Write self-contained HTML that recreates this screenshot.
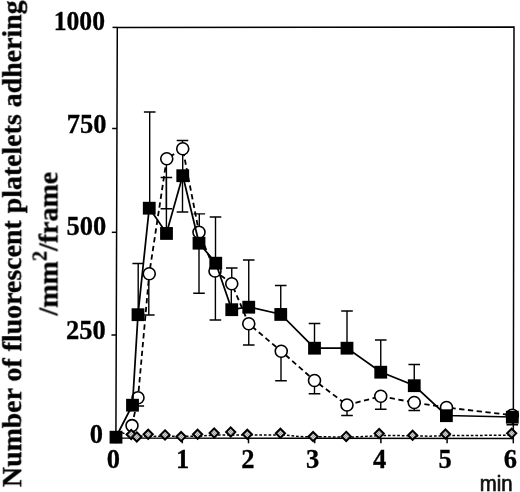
<!DOCTYPE html>
<html lang="en"><head><meta charset="utf-8"><title>Fluorescent platelets adhering</title>
<style>
html,body{margin:0;padding:0;background:#fff;}
body{width:520px;height:492px;overflow:hidden;}
svg{display:block;}
.t{font-family:"Liberation Serif","Times New Roman",serif;font-weight:bold;fill:#000;stroke:#000;stroke-width:0.3px;}
.s{font-family:"Liberation Sans",Arial,sans-serif;fill:#111;}
</style></head><body>
<svg width="520" height="492" viewBox="0 0 520 492">
<defs><filter id="b" filterUnits="userSpaceOnUse" x="0" y="0" width="520" height="492"><feGaussianBlur stdDeviation="0.35"/></filter><pattern id="h" width="2" height="2" patternUnits="userSpaceOnUse"><rect width="2" height="2" fill="#d4d4d4"/><rect width="1" height="1" fill="#9a9a9a"/><rect x="1" y="1" width="1" height="1" fill="#9a9a9a"/></pattern></defs>
<rect width="520" height="492" fill="#fff"/>
<g filter="url(#b)">
<g fill="none" stroke="#000" stroke-width="1.5">
<path d="M117.3 27.4L514 27.1L513.3 438.6L115.9 437.9Z"/>
<path d="M112.50 27.4H117.30"/>
<path d="M112.16 128.5H116.96"/>
<path d="M111.80 232.3H116.60"/>
<path d="M111.45 335H116.25"/>
<path d="M111.10 437.9H115.90"/>
<path d="M116.1 437.9V443.3"/>
<path d="M182.3 438.0V443.3"/>
<path d="M248.5 438.1V443.3"/>
<path d="M314.7 438.2V443.3"/>
<path d="M380.9 438.4V443.3"/>
<path d="M447.1 438.5V443.3"/>
<path d="M513.3 438.6V443.3"/>
</g>
<path d="M122 432.6L130 435.8L150 436.4L200 436.2L214 435L250 435L285 435L300 436.6L345 437L360 436.8L384 435.4L415 435.8L430 436.2L446 435.6L512 435.2" stroke="#000" stroke-width="1.5" stroke-dasharray="2.7 1.9" fill="none"/>
<g stroke="#000" fill="none">
<polyline points="132,425.6 138,397.8 149.25,273.75 166.75,158.75 182.75,148.75 199,232.25 215,271 231.75,283.75 248.75,323.75 281.25,351.25 314.5,380.5 347,405 380.75,396.25 414.25,402.5 446.5,407.5 512.3,415.2" stroke-width="1.8" stroke-dasharray="5.3 3.5"/>
<path d="M138.3 397.8V406M132.5 406H144.10000000000002" stroke-width="1.4"/>
<path d="M148.8 273.75V315M143.0 315H154.60000000000002" stroke-width="1.4"/>
<path d="M166.4 158.75V208.75M160.6 208.75H172.20000000000002" stroke-width="1.4"/>
<path d="M182.5 148.75V140.5M176.7 140.5H188.3" stroke-width="1.4"/>
<path d="M199.3 232V213.9M193.5 213.9H205.10000000000002" stroke-width="1.4"/>
<path d="M215.4 271V320M209.6 320H221.20000000000002" stroke-width="1.4"/>
<path d="M231.75 283.75V268M225.95 268H237.55" stroke-width="1.4"/>
<path d="M248.75 323.75V345M242.95 345H254.55" stroke-width="1.4"/>
<path d="M281 351.25V380.75M275.2 380.75H286.8" stroke-width="1.4"/>
<path d="M314.5 380.5V393.75M308.7 393.75H320.3" stroke-width="1.4"/>
<path d="M347 405V415.5M341.2 415.5H352.8" stroke-width="1.4"/>
<path d="M380.75 396.25V409.25M374.95 409.25H386.55" stroke-width="1.4"/>
<path d="M414.25 402.5V410.5M408.45 410.5H420.05" stroke-width="1.4"/>
</g>
<path d="M231.3 284V309M182.7 149V176" stroke="#000" stroke-width="1.4" fill="none"/>
<g stroke="#000" stroke-width="1.6" fill="#fff">
<circle cx="132" cy="425.6" r="6"/>
<circle cx="138" cy="397.8" r="6"/>
<circle cx="149.25" cy="273.75" r="6"/>
<circle cx="166.75" cy="158.75" r="6"/>
<circle cx="182.75" cy="148.75" r="6"/>
<circle cx="199" cy="232.25" r="6"/>
<circle cx="215" cy="271" r="6"/>
<circle cx="231.75" cy="283.75" r="6"/>
<circle cx="248.75" cy="323.75" r="6"/>
<circle cx="281.25" cy="351.25" r="6"/>
<circle cx="314.5" cy="380.5" r="6"/>
<circle cx="347" cy="405" r="6"/>
<circle cx="380.75" cy="396.25" r="6"/>
<circle cx="414.25" cy="402.5" r="6"/>
<circle cx="446.5" cy="407.5" r="6"/>
<circle cx="512.3" cy="415.2" r="6"/>
</g>
<g stroke="#000" fill="none">
<path d="M138.2 314.5V263.5M132.39999999999998 263.5H144.0" stroke-width="1.4"/>
<path d="M149.7 208V112M143.89999999999998 112H155.5" stroke-width="1.4"/>
<path d="M166.4 233V177.5M160.6 177.5H172.20000000000002" stroke-width="1.4"/>
<path d="M182.5 175.5V212M176.7 212H188.3" stroke-width="1.4"/>
<path d="M199 243V293.25M193.2 293.25H204.8" stroke-width="1.4"/>
<path d="M215.5 263V217M209.7 217H221.3" stroke-width="1.4"/>
<path d="M248.75 307V260M242.95 260H254.55" stroke-width="1.4"/>
<path d="M280.75 314V285.5M274.95 285.5H286.55" stroke-width="1.4"/>
<path d="M314.5 348V323.5M308.7 323.5H320.3" stroke-width="1.4"/>
<path d="M347 348V311M341.2 311H352.8" stroke-width="1.4"/>
<path d="M380.75 372V340M374.95 340H386.55" stroke-width="1.4"/>
<path d="M414.25 385.5V364.5M408.45 364.5H420.05" stroke-width="1.4"/>
<path d="M512.3 417V424.8M506.49999999999994 424.8H518.0999999999999" stroke-width="1.4"/>
<polyline points="116,437 132.5,405 138,314.5 149.25,208 166.5,233.25 182.75,175.5 199,243 215.75,263 231.75,309.5 248.75,307 280.75,314.25 314.5,348 347,348 380.75,372 414.25,385.5 446.4,415.5 512.3,417" stroke-width="1.75"/>
</g>
<g fill="#000">
<rect x="109.60" y="430.80" width="12.8" height="12.8"/>
<rect x="126.10" y="398.80" width="12.8" height="12.8"/>
<rect x="131.60" y="308.30" width="12.8" height="12.8"/>
<rect x="142.85" y="201.80" width="12.8" height="12.8"/>
<rect x="160.10" y="227.05" width="12.8" height="12.8"/>
<rect x="176.35" y="169.30" width="12.8" height="12.8"/>
<rect x="192.60" y="236.80" width="12.8" height="12.8"/>
<rect x="209.35" y="256.80" width="12.8" height="12.8"/>
<rect x="225.35" y="303.30" width="12.8" height="12.8"/>
<rect x="242.35" y="300.80" width="12.8" height="12.8"/>
<rect x="274.35" y="308.05" width="12.8" height="12.8"/>
<rect x="308.10" y="341.80" width="12.8" height="12.8"/>
<rect x="340.60" y="341.80" width="12.8" height="12.8"/>
<rect x="374.35" y="365.80" width="12.8" height="12.8"/>
<rect x="407.85" y="379.30" width="12.8" height="12.8"/>
<rect x="440.00" y="409.30" width="12.8" height="12.8"/>
<rect x="505.90" y="410.80" width="12.8" height="12.8"/>
</g>
<g stroke="#000" stroke-width="2" fill="url(#h)">
<path d="M131.2 429.9L135.79999999999998 434.5L131.2 439.1L126.6 434.5Z"/>
<path d="M136.8 432.29999999999995L141.4 436.9L136.8 441.5L132.20000000000002 436.9Z"/>
<path d="M148.2 429.69999999999993L152.79999999999998 434.29999999999995L148.2 438.9L143.6 434.29999999999995Z"/>
<path d="M165 430.29999999999995L169.6 434.9L165 439.5L160.4 434.9Z"/>
<path d="M181.1 431.99999999999994L185.7 436.59999999999997L181.1 441.2L176.5 436.59999999999997Z"/>
<path d="M197.6 429.59999999999997L202.2 434.2L197.6 438.8L193.0 434.2Z"/>
<path d="M214.2 428.4L218.79999999999998 433.0L214.2 437.6L209.6 433.0Z"/>
<path d="M230.7 427.4L235.29999999999998 432.0L230.7 436.6L226.1 432.0Z"/>
<path d="M247.3 429.69999999999993L251.9 434.29999999999995L247.3 438.9L242.70000000000002 434.29999999999995Z"/>
<path d="M280.4 428.69999999999993L285.0 433.29999999999995L280.4 437.9L275.79999999999995 433.29999999999995Z"/>
<path d="M313.1 431.99999999999994L317.70000000000005 436.59999999999997L313.1 441.2L308.5 436.59999999999997Z"/>
<path d="M346.2 431.79999999999995L350.8 436.4L346.2 441.0L341.59999999999997 436.4Z"/>
<path d="M379.2 428.99999999999994L383.8 433.59999999999997L379.2 438.2L374.59999999999997 433.59999999999997Z"/>
<path d="M412.6 430.59999999999997L417.20000000000005 435.2L412.6 439.8L408.0 435.2Z"/>
<path d="M445.5 429.4L450.1 434.0L445.5 438.6L440.9 434.0Z"/>
<path d="M511.7 428.69999999999993L516.3 433.29999999999995L511.7 437.9L507.09999999999997 433.29999999999995Z"/>
</g>
<text class="t" x="105" y="29.8" font-size="26.5" text-anchor="end" textLength="51.3" lengthAdjust="spacingAndGlyphs">1000</text>
<text class="t" x="106.4" y="132.8" font-size="26.5" text-anchor="end">750</text>
<text class="t" x="106.2" y="234.7" font-size="26.5" text-anchor="end">500</text>
<text class="t" x="105.8" y="338.8" font-size="26.5" text-anchor="end">250</text>
<text class="t" x="102.9" y="442.7" font-size="26.5" text-anchor="end">0</text>
<text class="t" x="113.4" y="467.5" font-size="26.5" text-anchor="middle">0</text>
<text class="t" x="182.5" y="467.5" font-size="26.5" text-anchor="middle">1</text>
<text class="t" x="247.8" y="467.5" font-size="26.5" text-anchor="middle">2</text>
<text class="t" x="312.5" y="467.5" font-size="26.5" text-anchor="middle">3</text>
<text class="t" x="379.5" y="467.5" font-size="26.5" text-anchor="middle">4</text>
<text class="t" x="445.0" y="467.5" font-size="26.5" text-anchor="middle">5</text>
<text class="t" x="510.4" y="467.5" font-size="26.5" text-anchor="middle">6</text>
<text class="s" x="479.7" y="490.8" font-size="22" textLength="32.8" lengthAdjust="spacingAndGlyphs" stroke="#111" stroke-width="0.7">min</text>
<text class="t" transform="translate(21.2 487.1) rotate(-90)" font-size="28" textLength="486.7" lengthAdjust="spacingAndGlyphs">Number of fluorescent platelets adhering</text>
<text class="t" transform="translate(57.5 315.5) rotate(-90)" font-size="28">/mm<tspan font-size="20" dy="-11">2</tspan><tspan dy="11">/frame</tspan></text>
</g></svg></body></html>
